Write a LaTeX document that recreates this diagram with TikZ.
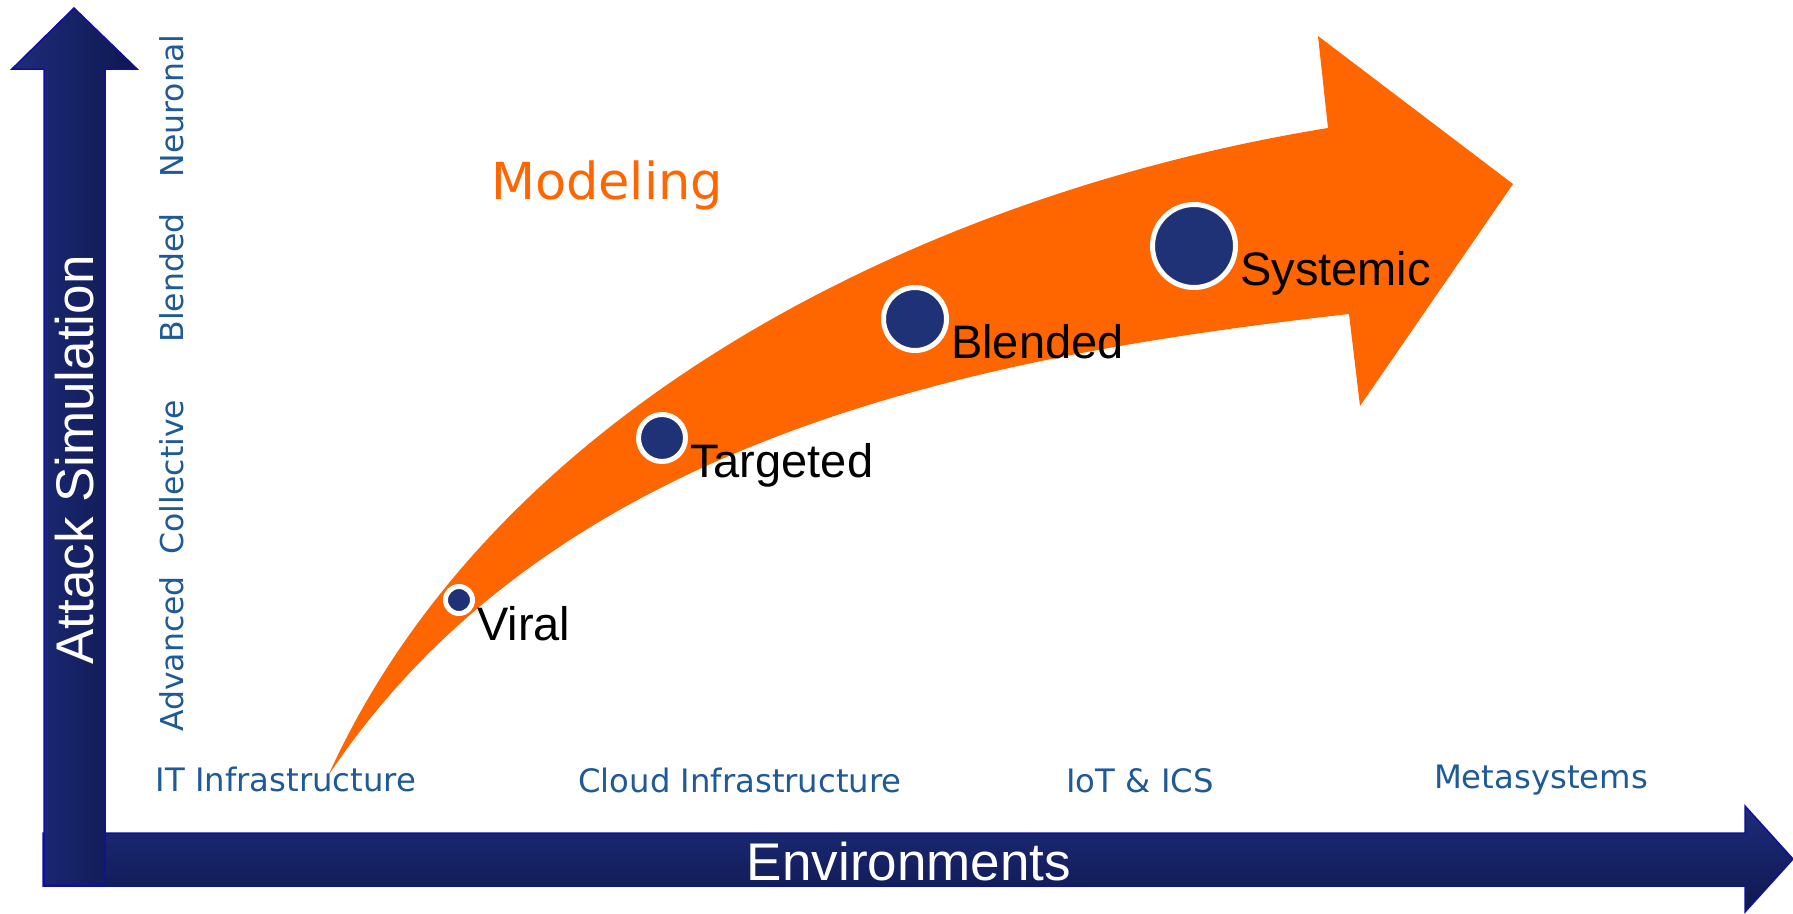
\documentclass[tikz,border=0pt]{standalone}
\usepackage{fontspec}
\setmainfont{Liberation Sans}
\newfontfamily\verdanafont{DejaVu Sans}
\usepackage{xcolor}
\usepackage{tikz}
\definecolor{arroworange}{RGB}{255,102,0}
\definecolor{dotblue}{RGB}{32,50,118}
\definecolor{axislight}{RGB}{30,44,122}
\definecolor{axisdark}{RGB}{14,24,80}
\definecolor{axisrim}{RGB}{16,16,160}
\definecolor{labelblue}{RGB}{30,90,152}
\tikzset{
    tnode/.style = {inner sep=0pt},
    stage_dot/.style = {tnode, circle, fill=dotblue, draw=white, line width=5pt, minimum size=#1},
    stage_label/.style = {tnode, anchor=base west, font=\fontsize{47}{51}\selectfont},
    env_label/.style = {tnode, anchor=base, text=labelblue, font=\verdanafont\fontsize{32.3}{36}\selectfont},
    level_label/.style = {env_label, rotate=90, font=\verdanafont\fontsize{31.5}{36}\selectfont},
    axis_title/.style = {tnode, text=white, font=\fontsize{53}{58}\selectfont},
    axis_arrow/.style = {draw=axisrim, line width=1.5pt}
}

\begin{document}
\begin{tikzpicture}[x=1pt, y=-1pt]
    \useasboundingbox (0,0) rectangle (1793,913);
    % axes
    \draw[axis_arrow, top color=axislight, bottom color=axisdark]
        (43,833) -- (1745,833) -- (1745,806) -- (1793,859) -- (1745,912) -- (1745,886) -- (43,886) -- cycle;
    \draw[axis_arrow, left color=axislight, right color=axisdark]
        (44,885) -- (44,69) -- (12,69) -- (74,8) -- (137,69) -- (105,69) -- (105,885) -- cycle;
    \node[axis_title, rotate=90] (sim_title) at (75,460) {Attack Simulation};
    \node[axis_title] (env_title) at (909,862) {Environments};
    % orange arrow
    \fill[arroworange] (328,776) .. controls (499,398) and (939,191) .. (1328,128)
        -- (1318,36) -- (1513,184) -- (1360,406) -- (1349,314)
        .. controls (977,356) and (553,438) .. (328,776) -- cycle;
    \node[tnode, anchor=base, text=arroworange, font=\verdanafont\fontsize{51}{56}\selectfont]
        (modeling) at (607,199) {Modeling};
    % stages
    \node[stage_dot=27pt] (viral) at (459,600) {};
    \node[stage_dot=47pt] (targeted) at (662,438) {};
    \node[stage_dot=63pt] (blended) at (915,319) {};
    \node[stage_dot=83pt] (systemic) at (1194,246) {};
    \node[stage_label] (viral_text) at ([xshift=2pt, yshift=-40pt]viral.east) {Viral};
    \node[stage_label] (targeted_text) at ([xshift=2pt, yshift=-39pt]targeted.east) {Targeted};
    \node[stage_label] (blended_text) at ([xshift=2pt, yshift=-39pt]blended.east) {Blended};
    \node[stage_label] (systemic_text) at ([xshift=2pt, yshift=-39pt]systemic.east) {Systemic};
    % environments
    \node[env_label] (it_env) at (286,791) {IT Infrastructure};
    \node[env_label] (cloud_env) at (740,792) {Cloud Infrastructure};
    \node[env_label] (iot_env) at (1140,792) {IoT \& ICS};
    \node[env_label] (meta_env) at (1541,788) {Metasystems};
    % simulation levels
    \foreach \lvl/\ypos in {Advanced/654, Collective/477, Blended/278, Neuronal/106}
        \node[level_label] (lvl_\lvl) at (183,\ypos) {\lvl};
\end{tikzpicture}
\end{document}
